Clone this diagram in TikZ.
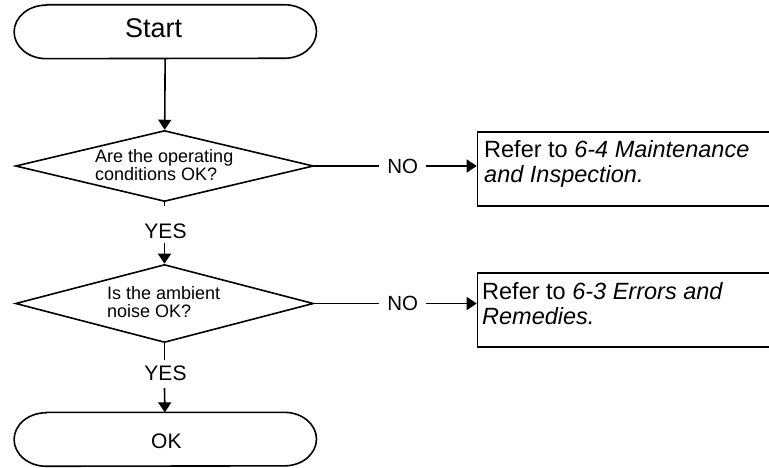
\documentclass[tikz,border=0pt]{standalone}
\usepackage{fontspec}
\setmainfont{Liberation Sans}
\usetikzlibrary{arrows.meta,shapes.geometric}
\begin{document}
\begin{tikzpicture}[x=1pt,y=-1pt,
  line/.style={line width=1.6pt},
  arr/.style={line, -{Triangle[length=10pt,width=13pt]}},
  term/.style={minimum width=302pt, minimum height=53.5pt, inner sep=0pt, draw=none},
  dec/.style={diamond, draw, line, minimum width=298pt, inner sep=0pt},
  refbox/.style={draw, line, minimum width=320pt, minimum height=74pt, inner sep=0pt, anchor=north west},
  dtext/.style={font=\fontsize{18}{18}\selectfont, align=left, inner sep=0pt, anchor=north west},
  btext/.style={font=\fontsize{23.5}{25}\selectfont, align=left, inner sep=0pt, anchor=north west},
  lbl/.style={font=\fontsize{21}{21}\selectfont, inner sep=0pt},
  nolbl/.style={font=\fontsize{20.5}{21}\selectfont, inner ysep=0pt, inner xsep=8pt}
]
\useasboundingbox (0,0) rectangle (769,467);
\clip (0,0) rectangle (769,467);

% terminals
\node[term] (start) at (165.3,31.7) {};
\draw[line] ([xshift=32pt]start.north west) -- ([xshift=-32pt]start.north east)
  arc[start angle=90,end angle=-90,x radius=32pt,y radius=26.75pt]
  -- ([xshift=32pt]start.south west)
  arc[start angle=270,end angle=90,x radius=32pt,y radius=26.75pt] -- cycle;
\node[font=\fontsize{27}{27}\selectfont, anchor=base west, inner sep=0pt] at (125,37.3) {Start};

\node[term] (ok) at (165.3,439.3) {};
\draw[line] ([xshift=32pt]ok.north west) -- ([xshift=-32pt]ok.north east)
  arc[start angle=90,end angle=-90,x radius=32pt,y radius=26.75pt]
  -- ([xshift=32pt]ok.south west)
  arc[start angle=270,end angle=90,x radius=32pt,y radius=26.75pt] -- cycle;
\node[font=\fontsize{21}{21}\selectfont, anchor=base west, inner sep=0pt] at (151,448) {OK};

% decisions
\node[dec, minimum height=71pt] (d1) at (164.5,166) {};
\node[dtext] at (95,149.3) {Are the operating\\conditions OK?};
\node[dec, minimum height=78pt] (d2) at (164.5,303.5) {};
\node[dtext] at (107,286.3) {Is the ambient\\noise OK?};

% reference boxes
\node[refbox] (b1) at (476.7,131) {};
\node[btext] at (484,140) {Refer to \textit{6-4 Maintenance}\\\textit{and Inspection.}};
\node[refbox] (b2) at (476.7,272) {};
\node[btext] at (482,282.5) {Refer to \textit{6-3 Errors and}\\\textit{Remedies.}};

% labels
\node[lbl, anchor=base] (yes1) at (165.5,238.5) {YES};
\node[lbl, anchor=base] (yes2) at (165.5,380.7) {YES};
\node[nolbl] (no1) at (402.8,166) {NO};
\node[nolbl] (no2) at (402.8,303.5) {NO};
\coordinate (y1a) at (164.5,206);
\coordinate (y1b) at (164.5,243);
\coordinate (y2a) at (164.5,360);
\coordinate (y2b) at (164.5,388);

% connectors
\draw[arr] (start) -- (d1);
\draw[line] (d1.south) -- (y1a);
\draw[arr] (y1b) -- (d2.north);
\draw[line] (d2.south) -- (y2a);
\draw[arr] (y2b) -- (ok);
\draw[line] (d1.east) -- (no1.west);
\draw[arr] (no1.east) -- (no1.east -| b1.west);
\draw[line] (d2.east) -- (no2.west);
\draw[arr] (no2.east) -- (no2.east -| b2.west);
\end{tikzpicture}
\end{document}
